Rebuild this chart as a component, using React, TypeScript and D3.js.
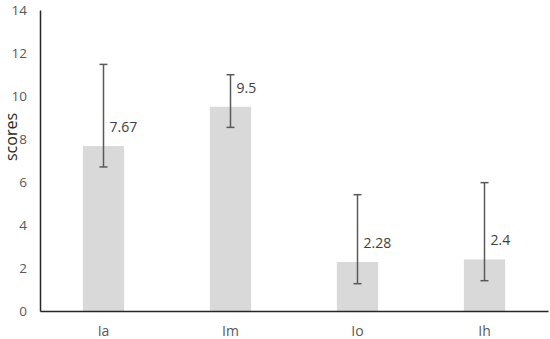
import React, { useEffect, useRef } from 'react';
import * as d3 from 'd3';

const categories = ['Ia', 'Im', 'Io', 'Ih'];
const values = [7.67, 9.5, 2.28, 2.4];
const errUpper = [11.47, 10.99, 5.41, 5.97];
const errLower = [6.7, 8.54, 1.27, 1.41];
const yTicks = [0, 2, 4, 6, 8, 10, 12, 14];

const App = () => {
  const svgRef = useRef<SVGSVGElement>(null);

  useEffect(() => {
    const svg = d3.select(svgRef.current);
    svg.selectAll('*').remove();

    const width = 550;
    const height = 339;
    const margin = { top: 10, right: 2, bottom: 28, left: 40 };
    const font = "'Open Sans', 'Liberation Sans', sans-serif";

    const x = d3.scaleBand()
      .domain(categories)
      .range([margin.left, width - margin.right])
      .padding(0);

    const y = d3.scaleLinear()
      .domain([0, 14])
      .range([height - margin.bottom, margin.top]);

    const barW = x.bandwidth() * 0.325;
    const data = categories.map((c, i) => ({
      c, v: values[i], hi: errUpper[i], lo: errLower[i]
    }));

    // bars
    svg.append('g')
      .selectAll('rect')
      .data(data)
      .enter()
      .append('rect')
      .attr('x', d => x(d.c)! + x.bandwidth() / 2 - barW / 2)
      .attr('y', d => y(d.v))
      .attr('width', barW)
      .attr('height', d => y(0) - y(d.v))
      .attr('fill', '#d9d9d9');

    // error bars
    const eb = svg.append('g')
      .attr('stroke', '#595959')
      .attr('stroke-width', 1.5);
    data.forEach(d => {
      const cx = x(d.c)! + x.bandwidth() / 2;
      eb.append('line')
        .attr('x1', cx).attr('x2', cx)
        .attr('y1', y(d.hi)).attr('y2', y(d.lo));
      [d.hi, d.lo].forEach(v => {
        eb.append('line')
          .attr('x1', cx - 4).attr('x2', cx + 4)
          .attr('y1', y(v)).attr('y2', y(v));
      });
    });

    // value labels
    svg.append('g')
      .selectAll('text')
      .data(data)
      .enter()
      .append('text')
      .attr('x', d => x(d.c)! + x.bandwidth() / 2 + 6)
      .attr('y', d => y(d.v) - 19)
      .attr('dy', '0.35em')
      .style('font-family', font)
      .style('font-size', '14px')
      .style('fill', '#404040')
      .text(d => String(d.v));

    // y axis
    const yAxis = svg.append('g')
      .attr('transform', `translate(${margin.left},0)`)
      .call(d3.axisLeft(y).tickValues(yTicks).tickSize(0).tickPadding(13));
    yAxis.select('.domain').attr('stroke', '#262626').attr('stroke-width', 1.5);
    yAxis.selectAll('text')
      .style('font-family', font)
      .style('font-size', '13.5px')
      .style('fill', '#595959');

    // x axis
    const xAxis = svg.append('g')
      .attr('transform', `translate(0,${y(0)})`)
      .call(d3.axisBottom(x).tickSize(0).tickPadding(15));
    xAxis.select('.domain').attr('stroke', '#262626').attr('stroke-width', 1.5);
    xAxis.selectAll('text')
      .style('font-family', font)
      .style('font-size', '14px')
      .style('fill', '#595959');

    // y title
    svg.append('text')
      .attr('transform', `translate(17,137) rotate(-90)`)
      .attr('text-anchor', 'middle')
      .style('font-family', font)
      .style('font-size', '16px')
      .style('fill', '#262626')
      .text('scores');
  }, []);

  return (
    <svg ref={svgRef} width={550} height={339}
      style={{ position: 'absolute', left: 0, top: 0, background: '#fff' }} />
  );
};

export default App;
